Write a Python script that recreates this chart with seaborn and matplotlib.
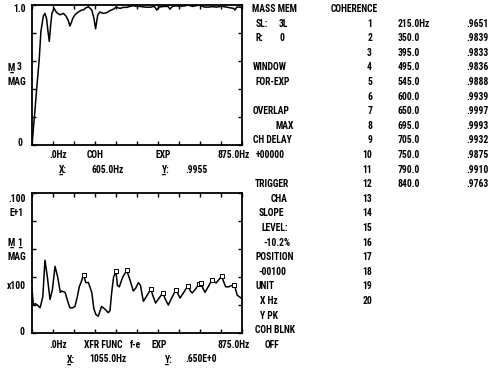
import numpy as np
import matplotlib
matplotlib.use("Agg")
import matplotlib.pyplot as plt
from matplotlib import font_manager as fm
import seaborn as sns

# ---------------- data ----------------
top_freq = [0, 10, 20, 30, 37, 47, 54, 61, 66, 72, 78, 83, 92, 103, 117, 131, 142, 151, 158, 165,
            170, 179, 193, 207, 215, 221, 235, 249, 258, 265, 274, 283, 297, 311, 325, 339, 350, 367,
            381, 395, 408, 422, 436, 450, 470, 495, 505, 512, 520, 530, 545, 560, 567, 575, 585, 600,
            620, 640, 650, 670, 695, 705, 720, 735, 750, 770, 790, 810, 825, 840, 846, 853, 865, 875]
top_coh = [0.0, 0.2, 0.41, 0.61, 0.81, 0.92, 0.94, 0.90, 0.82, 0.74, 0.86, 0.94, 0.976, 0.945,
           0.93, 0.94, 0.92, 0.89, 0.85, 0.88, 0.905, 0.93, 0.95, 0.964, 0.965, 0.976, 0.988, 0.964,
           0.905, 0.83, 0.93, 0.95, 0.94, 0.945, 0.96, 0.97, 0.984, 0.976, 0.983, 0.983, 0.99, 0.995,
           0.99, 0.99, 0.985, 0.984, 0.99, 0.985, 0.964, 0.985, 0.989, 0.99, 0.99, 0.97, 0.99, 0.994,
           0.99, 0.995, 0.999, 0.99, 0.999, 0.993, 0.985, 0.985, 0.988, 0.985, 0.991, 0.985, 0.98,
           0.976, 0.964, 0.985, 0.985, 0.98]

bot_freq = [0, 6, 13, 22, 34, 45, 54, 64, 75, 85, 96, 107, 118, 124, 138, 150, 158, 170, 179, 189,
            197, 204, 215, 224, 235, 249, 258, 267, 276, 290, 304, 318, 325, 332, 340, 350, 356, 364,
            378, 395, 408, 422, 432, 443, 452, 464, 480, 495, 505, 515, 530, 545, 556, 568, 582, 600,
            608, 617, 632, 650, 660, 668, 684, 695, 705, 712, 721, 734, 750, 767, 790, 800, 807, 820,
            840, 847, 855, 871, 875]
bot_mag = [0.31, 0.20, 0.21, 0.20, 0.18, 0.26, 0.52, 0.40, 0.24, 0.31, 0.476, 0.40, 0.29, 0.30,
           0.29, 0.22, 0.18, 0.18, 0.19, 0.26, 0.33, 0.36, 0.416, 0.36, 0.36, 0.29, 0.17, 0.13, 0.12,
           0.19, 0.17, 0.145, 0.16, 0.29, 0.40, 0.44, 0.34, 0.33, 0.40, 0.447, 0.38, 0.30, 0.32, 0.36,
           0.34, 0.226, 0.27, 0.314, 0.26, 0.214, 0.25, 0.286, 0.24, 0.20, 0.25, 0.31, 0.28, 0.25,
           0.29, 0.338, 0.30, 0.286, 0.32, 0.35, 0.36, 0.32, 0.29, 0.33, 0.38, 0.357, 0.405, 0.36,
           0.33, 0.33, 0.345, 0.32, 0.27, 0.25, 0.25]

marker_freq = [215, 350, 395, 495, 545, 600, 650, 695, 705, 750, 790, 840]

table_index = list(range(1, 21))
table_freq_labels = ["215.0Hz", "350.0", "395.0", "495.0", "545.0", "600.0", "650.0",
                     "695.0", "705.0", "750.0", "790.0", "840.0"]
table_coh_labels = [".9651", ".9839", ".9833", ".9836", ".9888", ".9939", ".9997",
                    ".9993", ".9932", ".9875", ".9910", ".9763"]

x_max = 875
x_divisions = 10
y_divisions = 5

# ---------------- style ----------------
sns.set_theme(style="white")

# pick a narrow face if one is installed
_fonts = fm.fontManager.ttflist
_names = {f.name for f in _fonts}
FAMILY, STRETCH, FS = None, "normal", 5.9
for pref in ["Liberation Sans Narrow", "Roboto Condensed", "Open Sans Condensed",
             "Noto Sans Condensed", "DejaVu Sans Condensed"]:
    if pref in _names:
        FAMILY, FS = pref, 6.9
        break
if FAMILY is None:
    for fam in ["DejaVu Sans", "Noto Sans", "Roboto", "Open Sans"]:
        ok = any(f.name == fam and str(f.stretch) in ("condensed", "semi-condensed", "300", "400")
                 for f in _fonts)
        if ok:
            FAMILY, STRETCH, FS = fam, "condensed", 6.5
            break
if FAMILY is None:
    FAMILY = "DejaVu Sans"
plt.rcParams['font.family'] = [FAMILY, 'DejaVu Sans']
WEIGHT = "bold"

W, H = 500, 371
fig = plt.figure(figsize=(5.0, 3.71), dpi=100)
fig.patch.set_facecolor("white")


def rect(x0, y0, x1, y1):
    return [x0 / W, 1 - y1 / H, (x1 - x0) / W, (y1 - y0) / H]


ax1 = fig.add_axes(rect(32, 5, 242, 145))
ax2 = fig.add_axes(rect(32, 193, 242, 333))

sns.lineplot(x=top_freq, y=top_coh, ax=ax1, color="black", lw=1.1,
             estimator=None, sort=False)
sns.lineplot(x=bot_freq, y=bot_mag, ax=ax2, color="black", lw=1.1,
             estimator=None, sort=False)
marker_y = np.interp(marker_freq, bot_freq, bot_mag)
sns.scatterplot(x=marker_freq, y=marker_y, ax=ax2, marker="s", s=5,
                facecolor="white", edgecolor="black", linewidth=0.7, zorder=5)

for ax in (ax1, ax2):
    ax.set_xlim(0, x_max)
    ax.set_ylim(0, 1)
    ax.set_xticks(np.linspace(0, x_max, x_divisions + 1))
    ax.set_yticks(np.linspace(0, 1, y_divisions + 1))
    ax.tick_params(direction="in", length=3, width=1.0, color="black",
                   top=True, right=True, bottom=True, left=True,
                   labelbottom=False, labelleft=False)
    ax.set_xlabel("")
    ax.set_ylabel("")
    ax.set_facecolor("white")
    for sp in ax.spines.values():
        sp.set_color("black")
        sp.set_linewidth(1.3)
        sp.set_visible(True)

LINE0 = 9.0
LSTEP = 14.6


def line_y(n):
    return LINE0 + LSTEP * n


def put(x, n, s, ha="left", y=None):
    yy = line_y(n) if y is None else y
    fig.text(x / W, 1 - yy / H, s, ha=ha, va="center", fontsize=FS,
             fontstretch=STRETCH, fontweight=WEIGHT, color="black")


UL = "\u0332"

# top panel labels
put(13, 0, "1.0")
put(7, 4, "M" + UL)
put(17, 4, "3")
put(7, 5, "MAG")
put(17, 9, "0", y=143)
put(49, 10, ".0Hz")
put(87, 10, "COH")
put(155, 10, "EXP")
put(250, 10, "875.0Hz", ha="right")
put(59, 11, "X" + UL + ":")
put(91, 11, "605.0Hz")
put(162, 11, "Y" + UL + ":")
put(185, 11, ".9955")

# bottom panel labels
put(8, 13, ".100")
put(9, 14, "E+1")
put(7, 16, "M" + UL)
put(17, 16, "1" + UL)
put(7, 17, "MAG")
put(7, 19, "x100")
put(20, 22, "0", y=332)
put(49, 23, ".0Hz")
put(84, 23, "XFR FUNC")
put(130, 23, "f-e")
put(152, 23, "EXP")
put(250, 23, "875.0Hz", ha="right")
put(67, 24, "X" + UL + ":")
put(89, 24, "1055.0Hz")
put(165, 24, "Y" + UL + ":")
put(185, 24, ".650E+0")

# status column
status = [
    (252, 0, "MASS MEM"), (256, 1, "SL:"), (279, 1, "3L"), (256, 2, "R:"), (279, 2, "0"),
    (253, 4, "WINDOW"), (256, 5, "FOR-EXP"), (253, 7, "OVERLAP"), (275, 8, "MAX"),
    (253, 9, "CH DELAY"), (256, 10, "+00000"), (255, 12, "TRIGGER"), (271, 13, "CHA"),
    (259, 14, "SLOPE"), (261, 15, "LEVEL:"), (263, 16, "-10.2%"), (255, 17, "POSITION"),
    (258, 18, "-00100"), (255, 19, "UNIT"), (260, 20, "X Hz"), (260, 21, "Y PK"),
    (255, 22, "COH BLNK"), (265, 23, "OFF"),
]
for x, n, s in status:
    put(x, n, s)

# coherence table
put(331, 0, "COHERENCE")
for i in table_index:
    put(372, i, str(i), ha="right")
for i, (fl, cl) in enumerate(zip(table_freq_labels, table_coh_labels), start=1):
    put(398, i, fl)
    put(466, i, cl)

fig.savefig("out.png", dpi=100, facecolor="white")
